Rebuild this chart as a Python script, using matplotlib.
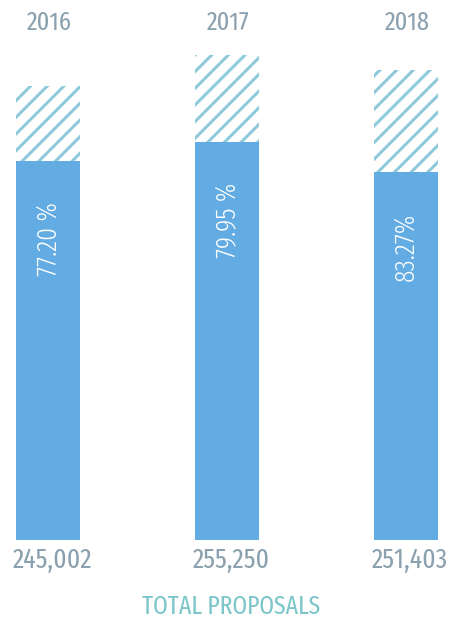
import matplotlib
matplotlib.use('Agg')
import matplotlib.pyplot as plt

plt.rcParams['font.family'] = ['Fira Sans Extra Condensed', 'DejaVu Sans']
plt.rcParams['font.weight'] = 'normal'
plt.rcParams['hatch.linewidth'] = 2.2

years = ['2016', '2017', '2018']
totals = [245002, 255250, 251403]
pct_labels = ['77.20 %', '79.95 %', '83.27%']
# bar heights as drawn in the picture (chart units, baseline = 0)
bar_full = [454, 485, 470]
bar_solid = [379, 398, 368]

blue = '#62abe3'
hatch_col = '#8ecadb'
grey = '#8ba1af'
teal = '#7cc6c9'

fig = plt.figure(figsize=(4.52, 6.21), dpi=100)
ax = fig.add_axes([0, 81 / 621, 1, 540 / 621])

x = list(range(len(years)))
w = 0.358

ax.bar(x, bar_full, width=w, color='white', edgecolor=hatch_col,
       linewidth=0, hatch='//')
ax.bar(x, bar_solid, width=w, color=blue, linewidth=0)

for i in x:
    ax.text(i + 0.005, 517.5, years[i], ha='center', va='center', fontsize=19,
            color=grey)
    ax.text(i + 0.02, -20, "{:,}".format(totals[i]), ha='center', va='center',
            fontsize=20, color=grey, clip_on=False)
    ax.text(i, bar_solid[i] - 41, pct_labels[i], rotation=90, ha='center',
            va='top', fontsize=20, color='white', weight=300)

ax.text(1.02, -67, 'TOTAL PROPOSALS', ha='center', va='center', fontsize=18.5,
        color=teal, clip_on=False)

ax.set_xlim(-0.2713, 2.2573)
ax.set_ylim(0, 540)
ax.axis('off')

fig.savefig('out.png', dpi=100)
